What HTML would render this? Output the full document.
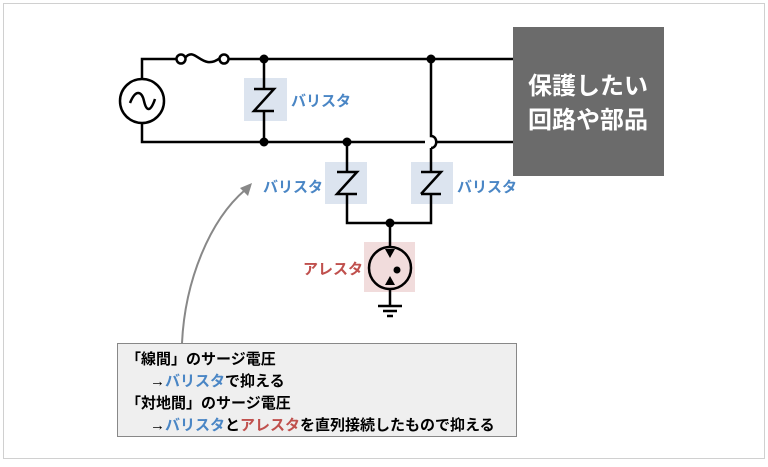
<!DOCTYPE html>
<html><head><meta charset="utf-8"><style>
body{margin:0;width:768px;height:462px;background:#fff;overflow:hidden;font-family:"Liberation Sans","Noto Sans CJK JP",sans-serif;}
</style></head><body>
<svg width="768" height="462" xmlns="http://www.w3.org/2000/svg" font-family="Liberation Sans, Noto Sans CJK JP, sans-serif">
<rect x="3.5" y="3.5" width="761" height="455" fill="#fff" stroke="#d0d0d0" stroke-width="1"/>
<rect x="244" y="78" width="43" height="43" fill="#dce4ef"/>
<rect x="325" y="162" width="42" height="42" fill="#dce4ef"/>
<rect x="411" y="162" width="42" height="42" fill="#dce4ef"/>
<rect x="364" y="242" width="51" height="50" fill="#f1dcdc"/>
<rect x="513" y="27" width="151" height="149" fill="#6b6b6b"/>
<text x="588" y="94" font-size="24" font-weight="bold" fill="#fff" text-anchor="middle">保護したい</text>
<text x="588" y="128" font-size="24" font-weight="bold" fill="#fff" text-anchor="middle">回路や部品</text>
<g stroke="#000" stroke-width="2.5" fill="none">
<path d="M142 79 V59 H177 M228 59 H513"/>
<circle cx="181" cy="59" r="4.5"/><circle cx="224" cy="59" r="4.5"/>
<path d="M185 58 C195 45 202 72 220 58"/>
<path d="M142 123 V142 H425 M437 142 H513"/>
<circle cx="142" cy="101" r="22"/>
<path d="M130 103 C136 88 142 92 144 101 C146 110 150 114 155 99"/>
<path d="M264 59 V89 M254 89 H274 L254 111 H274 M264 111 V142"/>
<path d="M347 142 V172 M337 172 H357 L337 194 H357 M347 194 V223 H431 V194 M421 194 H441 L421 194 M421 194 L441 172 H421 M431 172 V148"/>
<path d="M431 59 V136 C438 136 438 148 431 148"/>
<path d="M390 223 V247 M390 289 V306"/>
<circle cx="390" cy="268" r="21"/>
<path d="M378 306 H402 M383 311 H397 M387 316 H393"/>
<path d="M182 343 C185 280 210 220 245 190" stroke="#888" stroke-width="2"/>
</g>
<polygon points="390,258 385,249 395,249" fill="#000"/>
<polygon points="390,276 385,285 395,285" fill="#000"/>
<circle cx="397" cy="270" r="3.5" fill="#000"/>
<polygon points="252,183 248,196 240,188" fill="#888"/>
<g fill="#000"><circle cx="264" cy="59" r="4.5"/><circle cx="264" cy="142" r="4.5"/><circle cx="431" cy="59" r="4.5"/><circle cx="347" cy="142" r="4.5"/><circle cx="390" cy="223" r="4.5"/></g>
<g font-size="15" font-weight="bold" fill="#4a86c5">
<text x="291" y="106">バリスタ</text><text x="263" y="192">バリスタ</text><text x="457" y="192">バリスタ</text></g>
<text x="303" y="274" font-size="15" font-weight="bold" fill="#c0504d">アレスタ</text>
<rect x="117.5" y="343.5" width="399" height="93" fill="#efefef" stroke="#888" stroke-width="1"/>
<g font-size="15" font-weight="bold" fill="#000">
<text x="126" y="364">「線間」のサージ電圧</text>
<text x="150" y="386">→<tspan fill="#4a86c5">バリスタ</tspan>で抑える</text>
<text x="126" y="408">「対地間」のサージ電圧</text>
<text x="150" y="430">→<tspan fill="#4a86c5">バリスタ</tspan>と<tspan fill="#c0504d">アレスタ</tspan>を直列接続したもので抑える</text>
</g>
</svg>
</body></html>
